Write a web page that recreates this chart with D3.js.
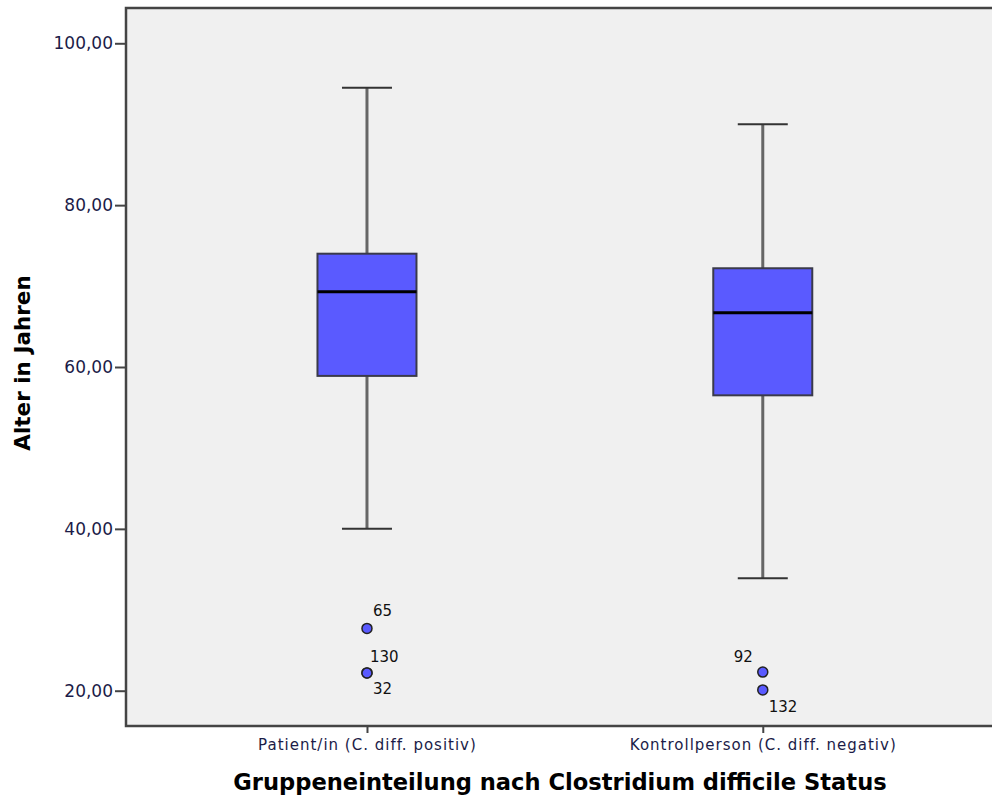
<!DOCTYPE html>
<html>
<head>
<meta charset="utf-8">
<script src="https://cdn.jsdelivr.net/npm/d3@7"></script>
<style>
  body { margin: 0; background: #fff; }
  text { font-family: "DejaVu Sans", sans-serif; }
</style>
</head>
<body>
<div id="chart-area"></div>
<script>
// boxplot stats
const groups = ["Patient/in (C. diff. positiv)", "Kontrollperson (C. diff. negativ)"]
const whiskerLow = [40.0, 33.9]
const q1 = [58.9, 56.5]
const medians = [69.3, 66.7]
const q3 = [74.0, 72.2]
const whiskerHigh = [94.5, 90.0]

// outliers: group index, value, case number
const outlierGroup = [0, 0, 0, 1, 1]
const outlierValue = [27.7, 22.2, 22.2, 22.3, 20.1]
const outlierCase = ["65", "130", "32", "92", "132"]

const yTicks = [20, 40, 60, 80, 100]

const MARGIN = { LEFT: 126, RIGHT: 0, TOP: 8, BOTTOM: 77 }
const WIDTH = 992 - MARGIN.LEFT - MARGIN.RIGHT
const HEIGHT = 803 - MARGIN.TOP - MARGIN.BOTTOM

const svg = d3.select("#chart-area").append("svg")
  .attr("width", WIDTH + MARGIN.LEFT + MARGIN.RIGHT)
  .attr("height", HEIGHT + MARGIN.TOP + MARGIN.BOTTOM)

const g = svg.append("g")
  .attr("transform", `translate(${MARGIN.LEFT}, ${MARGIN.TOP})`)

const x = d3.scalePoint()
  .domain(groups)
  .range([0, WIDTH])
  .padding(0.594)
  .align(0.5125)

const y = d3.scaleLinear()
  .domain([15.64, 104.36])
  .range([HEIGHT, 0])

// plot background
g.append("rect")
  .attr("width", WIDTH)
  .attr("height", HEIGHT)
  .attr("fill", "#f0f0f0")

const data = groups.map((name, i) => ({
  name,
  lo: whiskerLow[i], q1: q1[i], med: medians[i], q3: q3[i], hi: whiskerHigh[i]
}))

const boxW = 99
const capW = 50

const box = g.selectAll(".box")
  .data(data)
  .enter().append("g")
  .attr("class", "box")
  .attr("transform", d => `translate(${x(d.name)}, 0)`)

// whisker stems
box.append("line")
  .attr("x1", 0).attr("x2", 0)
  .attr("y1", d => y(d.hi)).attr("y2", d => y(d.q3))
  .attr("stroke", "#666").attr("stroke-width", 3)
box.append("line")
  .attr("x1", 0).attr("x2", 0)
  .attr("y1", d => y(d.q1)).attr("y2", d => y(d.lo))
  .attr("stroke", "#666").attr("stroke-width", 3)

// caps
box.append("line")
  .attr("x1", -capW / 2).attr("x2", capW / 2)
  .attr("y1", d => y(d.hi)).attr("y2", d => y(d.hi))
  .attr("stroke", "#333").attr("stroke-width", 2)
box.append("line")
  .attr("x1", -capW / 2).attr("x2", capW / 2)
  .attr("y1", d => y(d.lo)).attr("y2", d => y(d.lo))
  .attr("stroke", "#333").attr("stroke-width", 2)

box.append("rect")
  .attr("x", -boxW / 2)
  .attr("width", boxW)
  .attr("y", d => y(d.q3))
  .attr("height", d => y(d.q1) - y(d.q3))
  .attr("fill", "#5a5aff")
  .attr("stroke", "#3a3a4a")
  .attr("stroke-width", 2)

box.append("line")
  .attr("x1", -boxW / 2).attr("x2", boxW / 2)
  .attr("y1", d => y(d.med)).attr("y2", d => y(d.med))
  .attr("stroke", "#000").attr("stroke-width", 3)

// outliers
const outliers = outlierValue.map((v, i) => ({
  name: groups[outlierGroup[i]], value: v, label: outlierCase[i]
}))

g.selectAll(".outlier")
  .data(outliers)
  .enter().append("circle")
  .attr("class", "outlier")
  .attr("cx", d => x(d.name))
  .attr("cy", d => y(d.value))
  .attr("r", 5)
  .attr("fill", "#5a5aff")
  .attr("stroke", "#222")
  .attr("stroke-width", 1.5)

// label offsets so stacked case numbers don't collide
const labelDx = [6, 3, 6, -29, 6]
const labelDy = [-12, -11, 21, -10, 22]
g.selectAll(".outlier-label")
  .data(outliers)
  .enter().append("text")
  .attr("class", "outlier-label")
  .attr("x", (d, i) => x(d.name) + labelDx[i])
  .attr("y", (d, i) => y(d.value) + labelDy[i])
  .attr("font-size", 15)
  .attr("fill", "#111")
  .text(d => d.label)

// axes
const yAxisCall = d3.axisLeft(y)
  .tickValues(yTicks)
  .tickSize(11)
  .tickSizeOuter(0)
  .tickFormat(d => d3.format(".2f")(d).replace(".", ","))
const yAxis = g.append("g").call(yAxisCall)
yAxis.select(".domain").remove()
yAxis.selectAll("line").attr("stroke", "#444").attr("stroke-width", 2)
yAxis.selectAll("text")
  .attr("font-size", 17)
  .attr("font-family", "DejaVu Sans")
  .attr("fill", "#1c1c48")
  .attr("x", -13)

const xAxisCall = d3.axisBottom(x)
  .tickSize(7)
  .tickSizeOuter(0)
  .tickPadding(6)
const xAxis = g.append("g")
  .attr("transform", `translate(0, ${HEIGHT})`)
  .call(xAxisCall)
xAxis.select(".domain").remove()
xAxis.selectAll("line").attr("stroke", "#444").attr("stroke-width", 2)
xAxis.selectAll("text")
  .attr("font-size", 15)
  .attr("letter-spacing", 1)
  .attr("font-family", "DejaVu Sans")
  .attr("fill", "#1c1c48")

// frame: left, top, bottom
g.append("path")
  .attr("d", `M${WIDTH},0H0V${HEIGHT}H${WIDTH}`)
  .attr("fill", "none")
  .attr("stroke", "#444")
  .attr("stroke-width", 2.5)

// X label
g.append("text")
  .attr("x", 434)
  .attr("y", HEIGHT + 64)
  .attr("text-anchor", "middle")
  .attr("font-size", 22.6)
  .attr("font-weight", "bold")
  .attr("fill", "#000")
  .text("Gruppeneinteilung nach Clostridium difficile Status")

// Y label
g.append("text")
  .attr("transform", "rotate(-90)")
  .attr("x", -355)
  .attr("y", -96)
  .attr("text-anchor", "middle")
  .attr("font-size", 21.5)
  .attr("font-weight", "bold")
  .attr("fill", "#000")
  .text("Alter in Jahren")
</script>
</body>
</html>
